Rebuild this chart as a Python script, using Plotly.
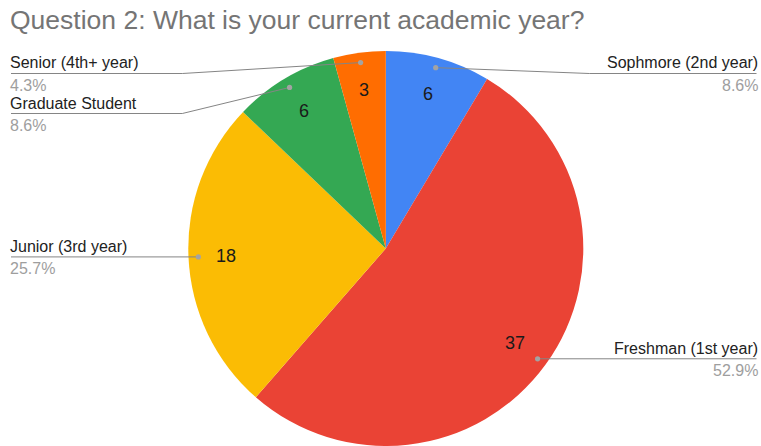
import math
import plotly.graph_objects as go

# Survey responses, listed clockwise from 12 o'clock
categories = ["Sophmore (2nd year)", "Freshman (1st year)", "Junior (3rd year)",
              "Graduate Student", "Senior (4th+ year)"]
counts = [6, 37, 18, 6, 3]
colors = ["#4285F4", "#EA4335", "#FBBC04", "#34A853", "#FF6D01"]

W, H = 761, 446
FONT = "Liberation Sans, Arial, sans-serif"

# Pie placement (pixels)
CX, CY_TOP = 385.8, 51.0
R = (H - CY_TOP) / 2.0
CY = CY_TOP + R

# Label layout settings
LABEL_MIN_Y = 73.5      # lowest allowed leader row (pixels from top)
LABEL_GAP = 40.0        # min vertical distance between rows on one side
LEFT_X, RIGHT_X = 11.0, 756.5
DOT_FRAC, NUM_FRAC = 0.95, 0.81


def px(x):
    return x / W


def py(y):
    return 1 - y / H


total = sum(counts)
fig = go.Figure(go.Pie(
    labels=categories,
    values=counts,
    sort=False,
    direction="clockwise",
    rotation=0,
    marker=dict(colors=colors, line=dict(width=0)),
    textinfo="none",
    hoverinfo="label+value+percent",
    showlegend=False,
    domain=dict(x=[px(CX - R), px(CX + R)], y=[0, py(CY_TOP)]),
))

# Mid-angle of each slice (clockwise from top)
mids = []
cum = 0
for v in counts:
    mids.append(2 * math.pi * (cum + v / 2) / total)
    cum += v


def polar(frac, ang):
    return CX + frac * R * math.sin(ang), CY - frac * R * math.cos(ang)


shapes, annotations = [], []

# Value labels inside the slices
for v, a in zip(counts, mids):
    x, y = polar(NUM_FRAC, a)
    annotations.append(dict(x=px(x), y=py(y), xref="paper", yref="paper",
                            xanchor="center", yanchor="middle",
                            text=str(v), showarrow=False, borderpad=0,
                            font=dict(family=FONT, size=18, color="#1a1a1a")))

# Leader lines with category name and share
rows = []
for i, a in enumerate(mids):
    dx, dy = polar(DOT_FRAC, a)
    side = "right" if math.sin(a) > 0 else "left"
    rows.append(dict(i=i, dx=dx, dy=dy, side=side))

for side in ("left", "right"):
    prev = None
    for r in sorted([r for r in rows if r["side"] == side], key=lambda r: r["dy"]):
        y = max(r["dy"], LABEL_MIN_Y)
        if prev is not None:
            y = max(y, prev + LABEL_GAP)
        r["ly"] = y
        prev = y

for r in rows:
    i = r["i"]
    dx, dy, ly = r["dx"], r["dy"], r["ly"]
    if r["side"] == "left":
        bend, end, anchor, shift = CX - R - 6, LEFT_X, "left", -2
    else:
        bend, end, anchor, shift = CX + R + 6, RIGHT_X, "right", 2
    if abs(ly - dy) < 0.5:
        path = f"M {px(dx)},{py(dy)} L {px(end)},{py(dy)}"
    else:
        path = (f"M {px(dx)},{py(dy)} L {px(bend)},{py(ly)} "
                f"L {px(end)},{py(ly)}")
    shapes.append(dict(type="path", path=path, xref="paper", yref="paper",
                       layer="above", line=dict(color="#858585", width=1)))
    shapes.append(dict(type="circle", xref="paper", yref="paper", layer="above",
                       x0=px(dx - 2.6), x1=px(dx + 2.6),
                       y0=py(dy + 2.6), y1=py(dy - 2.6),
                       fillcolor="#a3a3a3", line=dict(width=0)))
    pct = f"{100 * counts[i] / total:.1f}%"
    annotations.append(dict(x=px(end), y=py(ly - 10.5), xref="paper", yref="paper",
                            xanchor=anchor, yanchor="middle", text=categories[i],
                            showarrow=False, borderpad=0, xshift=shift,
                            font=dict(family=FONT, size=16, color="#222222")))
    annotations.append(dict(x=px(end), y=py(ly + 11.5), xref="paper", yref="paper",
                            xanchor=anchor, yanchor="middle", text=pct,
                            showarrow=False, borderpad=0, xshift=shift,
                            font=dict(family=FONT, size=16, color="#9e9e9e")))

fig.update_layout(
    width=W, height=H,
    margin=dict(l=0, r=0, t=0, b=0),
    paper_bgcolor="white",
    plot_bgcolor="white",
    title=dict(text="Question 2: What is your current academic year?",
               x=px(10), xanchor="left", xref="paper",
               y=py(20), yanchor="middle", yref="paper",
               font=dict(family=FONT, size=26.5, color="#757575")),
    shapes=shapes,
    annotations=annotations,
)

fig.write_html("out.html")
